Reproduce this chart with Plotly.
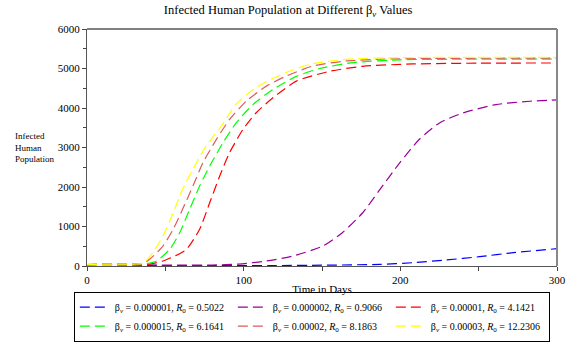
import plotly.graph_objects as go

# ---- data ----
beta_labels = ["0.000001", "0.000002", "0.00001", "0.000015", "0.00002", "0.00003"]
r0_labels = ["0.5022", "0.9066", "4.1421", "6.1641", "8.1863", "12.2306"]
colors = ["#0000ff", "#990099", "#ff0000", "#00ff00", "#e05a5a", "#ffff00"]

t_blue = [0, 10, 20, 30, 40, 80, 120, 150, 187, 208, 229, 250.6, 272, 300]
i_blue = [35, 35, 30, 25, 15, 10, 12, 20, 42, 84, 152, 236, 337, 438]

t_purple = [0, 10, 20, 30, 40, 60, 80, 97, 114.5, 131.5, 150.6, 163, 176, 187, 199.6, 212, 225, 240, 261, 282.5, 300]
i_purple = [35, 40, 40, 35, 25, 20, 25, 50, 126, 253, 505, 843, 1348, 1938, 2612, 3202, 3623, 3876, 4087, 4171, 4205]

t_red = [0, 10, 20, 30, 40, 48.5, 56, 63.4, 71.9, 78.3, 84.7, 91, 99.6, 108, 118.7, 133.6, 155, 176, 208, 250, 300]
i_red = [35, 45, 50, 50, 45, 127, 250, 420, 930, 1600, 2277, 2870, 3460, 3880, 4260, 4680, 4930, 5056, 5115, 5135, 5140]

t_green = [0, 10, 20, 30, 38, 44.3, 52.8, 59.2, 65.5, 71.9, 78.3, 86.8, 95.3, 106, 118.7, 133.6, 148.5, 170, 200, 240, 300]
i_green = [35, 45, 50, 50, 60, 127, 420, 845, 1435, 2024, 2530, 3120, 3627, 4090, 4470, 4800, 5000, 5150, 5220, 5235, 5240]

t_salmon = [0, 10, 20, 30, 36, 40, 48.5, 55, 61, 67.6, 74, 82.6, 91, 101.7, 114.5, 127, 144, 165, 190, 220, 260, 300]
i_salmon = [35, 45, 50, 50, 60, 170, 505, 930, 1435, 2024, 2615, 3205, 3710, 4175, 4554, 4806, 5060, 5190, 5240, 5255, 5260, 5262]

t_yellow = [0, 10, 20, 30, 36, 42, 48.5, 55, 61, 67.6, 76, 85, 95, 106, 117, 129, 144, 165, 190, 220, 260, 300]
i_yellow = [35, 45, 50, 50, 70, 340, 760, 1350, 1940, 2450, 3040, 3500, 4090, 4470, 4720, 4930, 5120, 5230, 5270, 5280, 5285, 5285]

series_t = [t_blue, t_purple, t_red, t_green, t_salmon, t_yellow]
series_i = [i_blue, i_purple, i_red, i_green, i_salmon, i_yellow]

x_ticks = [0, 100, 200, 300]
y_ticks = [0, 1000, 2000, 3000, 4000, 5000, 6000]

FONT = "Liberation Serif, Times New Roman, serif"

fig = go.Figure()
for k in range(6):
    name = ("β<sub><i>v</i></sub> = " + beta_labels[k] + ", <i>R</i><sub>0</sub> = " + r0_labels[k])
    fig.add_trace(go.Scatter(
        x=series_t[k], y=series_i[k], mode="lines", name=name,
        line=dict(color=colors[k], width=1.2, dash="10px,5px", shape="spline", smoothing=0.6),
    ))

fig.update_layout(
    width=569, height=342,
    margin=dict(l=87, r=12, t=29, b=76, autoexpand=False),
    paper_bgcolor="white", plot_bgcolor="white",
    font=dict(family=FONT, size=11, color="black"),
    title=dict(text="Infected Human Population at Different β<sub><i>v</i></sub> Values",
               x=0.428, xanchor="center", xref="paper", y=0.985, yanchor="top",
               font=dict(family=FONT, size=12.5, color="black")),
    showlegend=True,
    legend=dict(orientation="h", x=-0.028, xanchor="left", y=-0.108, yanchor="top",
                bordercolor="black", borderwidth=1, bgcolor="white",
                font=dict(family=FONT, size=10, color="black"),
                entrywidth=113, entrywidthmode="pixels", tracegroupgap=0,
                itemwidth=30),
)

fig.update_xaxes(range=[0, 300], tickvals=x_ticks, ticktext=[str(v) for v in x_ticks],
                 ticks="outside", ticklen=4, tickcolor="#444",
                 showline=True, linecolor="#555", linewidth=1.2, mirror=False,
                 showgrid=False, zeroline=False,
                 minor=dict(dtick=50, ticks="outside", ticklen=4, tickcolor="#444", showgrid=False),
                 title=dict(text="Time in Days", font=dict(family=FONT, size=11), standoff=0))
fig.update_yaxes(range=[0, 6000], tickvals=y_ticks, ticktext=[str(v) for v in y_ticks],
                 ticks="outside", ticklen=4, tickcolor="#444",
                 showline=True, linecolor="#555", linewidth=1.2, mirror=False,
                 showgrid=False, zeroline=False,
                 minor=dict(dtick=500, ticks="outside", ticklen=3, tickcolor="#444", showgrid=False))

# top and right frame lines
fig.add_shape(type="line", xref="paper", yref="paper", x0=0, x1=1, y0=1, y1=1,
              line=dict(color="black", width=1))
fig.add_shape(type="line", xref="paper", yref="paper", x0=1, x1=1, y0=0, y1=1,
              line=dict(color="#888", width=2))

fig.add_annotation(text="Infected<br>Human<br>Population", xref="paper", yref="paper",
                   x=-0.157, y=0.50, xanchor="left", yanchor="middle", align="left",
                   showarrow=False, font=dict(family=FONT, size=9, color="black"))

fig.write_html("out.html")
